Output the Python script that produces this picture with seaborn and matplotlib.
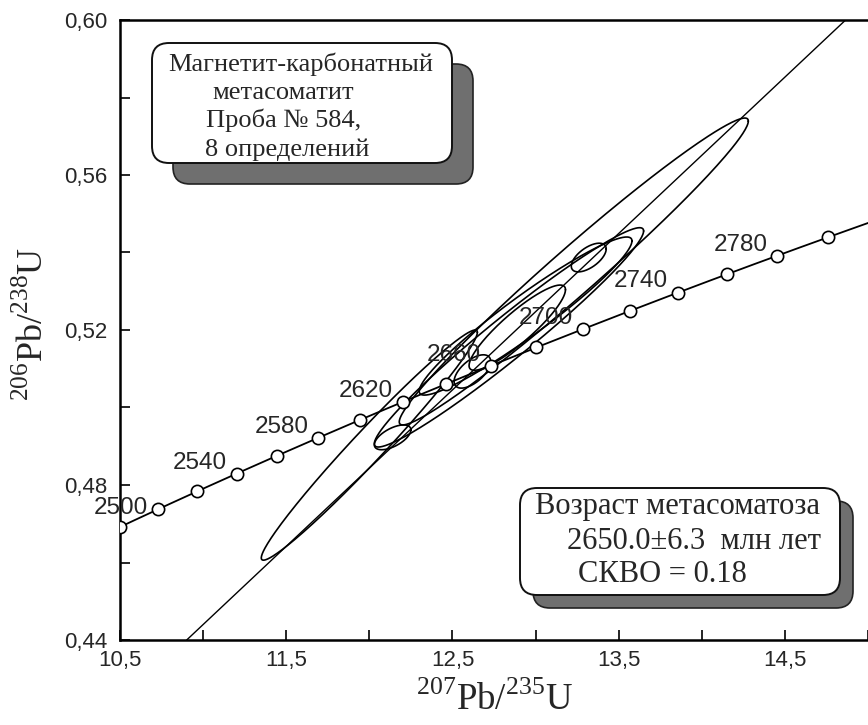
import numpy as np
import pandas as pd
import matplotlib
matplotlib.use('Agg')
import matplotlib.pyplot as plt
import seaborn as sns
from matplotlib.patches import FancyBboxPatch
from matplotlib.ticker import MultipleLocator

# concordia ages, Ma
marker_ages = [2480, 2500, 2520, 2540, 2560, 2580, 2600, 2620, 2640, 2660,
               2680, 2700, 2720, 2740, 2760, 2780, 2800]
label_ages = [2500, 2540, 2580, 2620, 2660, 2700, 2740, 2780]
# discordia: lower and upper intercept, Ma
intercept_ages = [0.0, 2650.0]

# 8 analyses: 207Pb/235U, 2s, 206Pb/238U, 2s, rho
pb7_u5 = [13.23, 12.00, 12.14, 12.84, 12.94, 13.32, 12.89, 12.62]
pb7_u5_err = [1.05, 0.65, 0.11, 0.81, 0.64, 0.105, 0.29, 0.11]
pb6_u8 = [0.5351, 0.4903, 0.4923, 0.5181, 0.5236, 0.5387, 0.5206, 0.5093]
pb6_u8_err = [0.0396, 0.0297, 0.0032, 0.0283, 0.0204, 0.0037, 0.0110, 0.0043]
rho = [0.98, 0.98, 0.6, 0.97, 0.95, 0.6, 0.89, 0.6]

xticks = [10.5, 11.5, 12.5, 13.5, 14.5]
xtick_labels = ['10,5', '11,5', '12,5', '13,5', '14,5']
yticks = [0.44, 0.48, 0.52, 0.56, 0.60]
ytick_labels = ['0,44', '0,48', '0,52', '0,56', '0,60']

sample_lines = ['Магнетит-карбонатный', 'метасоматит', 'Проба № 584,', '8 определений']
age_lines = ['Возраст метасоматоза', '2650.0±6.3  млн лет', 'СКВО = 0.18']

L238 = 1.55125e-4  # 1/Ma
L235 = 9.8485e-4


def concordia(t):
    t = np.asarray(t, dtype=float)
    return np.exp(L235 * t) - 1, np.exp(L238 * t) - 1


sns.set_style('ticks')
plt.rcParams['font.family'] = ['Liberation Sans', 'DejaVu Sans']
plt.rcParams['mathtext.fontset'] = 'custom'
plt.rcParams['mathtext.rm'] = 'Liberation Serif'

fig = plt.figure(figsize=(8.68, 7.25), dpi=100)
ax = fig.add_axes([120 / 868, 1 - 640 / 725, 748 / 868, 620 / 725])

# concordia curve
t_curve = np.linspace(2400, 2900, 400)
cx, cy = concordia(t_curve)
curve = pd.DataFrame({'x': cx, 'y': cy})
sns.lineplot(data=curve, x='x', y='y', sort=False, color='k', lw=1.3, ax=ax)

mx, my = concordia(marker_ages)
marks = pd.DataFrame({'x': mx, 'y': my})
sns.scatterplot(data=marks, x='x', y='y', s=78, facecolor='white',
                edgecolor='k', linewidth=1.2, zorder=5, ax=ax)

lx, ly = concordia(label_ages)
for age, x, y in zip(label_ages, lx, ly):
    dy = 1 if age == 2500 else 8
    ax.annotate(str(age), (x, y), xytext=(-7, dy), textcoords='offset points',
                ha='right', va='center', fontsize=17.5, zorder=6)

# discordia through intercepts
ix, iy = concordia(intercept_ages)
ax.axline((ix[0], iy[0]), (ix[1], iy[1]), color='k', lw=1.0)

# error ellipses
tt = np.linspace(0, 2 * np.pi, 300)
for x, sx, y, sy, r in zip(pb7_u5, pb7_u5_err, pb6_u8, pb6_u8_err, rho):
    ex = x + sx * np.cos(tt)
    ey = y + sy * (r * np.cos(tt) + np.sqrt(1 - r ** 2) * np.sin(tt))
    ax.plot(ex, ey, color='k', lw=1.2)

ax.set_xlim(10.5, 15.0)
ax.set_ylim(0.44, 0.60)
ax.set_xticks(xticks)
ax.set_xticklabels(xtick_labels)
ax.set_yticks(yticks)
ax.set_yticklabels(ytick_labels)
ax.xaxis.set_minor_locator(MultipleLocator(0.5))
ax.yaxis.set_minor_locator(MultipleLocator(0.02))
ax.tick_params(which='both', direction='in', length=7, width=1.2, color='k')
ax.tick_params(axis='x', labelsize=16, pad=7)
ax.tick_params(axis='y', labelsize=16, pad=9)
for side in ['left', 'bottom', 'top']:
    ax.spines[side].set_linewidth(1.8)
    ax.spines[side].set_color('k')
ax.spines['right'].set_visible(False)

ax.set_xlabel(r'$^{207}\mathrm{Pb}/^{235}\mathrm{U}$', fontsize=26.5)
ax.set_ylabel(r'$^{206}\mathrm{Pb}/^{238}\mathrm{U}$', fontsize=26)
ax.xaxis.set_label_coords(0.5, -0.068)
ax.yaxis.set_label_coords(-0.092, 0.51)

inch = fig.dpi_scale_trans


def shadow_box(x0, y0, w, h, off):
    sh = FancyBboxPatch((x0 + off, y0 - off), w, h,
                        boxstyle='round,pad=0,rounding_size=0.17',
                        transform=inch, facecolor='#6f6f6f', edgecolor='#222222',
                        lw=1.2, zorder=10, clip_on=False)
    bx = FancyBboxPatch((x0, y0), w, h,
                        boxstyle='round,pad=0,rounding_size=0.17',
                        transform=inch, facecolor='white', edgecolor='#111111',
                        lw=1.4, zorder=11, clip_on=False)
    fig.patches.extend([sh, bx])


shadow_box(1.52, 5.62, 3.00, 1.20, 0.21)
shadow_box(5.20, 1.30, 3.20, 1.07, 0.13)

serif = ['Liberation Serif', 'DejaVu Serif']
for txt, (px, py) in zip(sample_lines, [(301, 71), (283, 99), (284, 127), (287, 156)]):
    fig.text(px / 100, (725 - py) / 100, txt, transform=inch, ha='center',
             va='baseline', fontsize=19, family=serif, zorder=12)
for txt, (px, py) in zip(age_lines, [(535, 514), (567, 549), (578, 582)]):
    fig.text(px / 100, (725 - py) / 100, txt, transform=inch, ha='left',
             va='baseline', fontsize=22, family=serif, zorder=12)

fig.savefig('out.png', dpi=100)
